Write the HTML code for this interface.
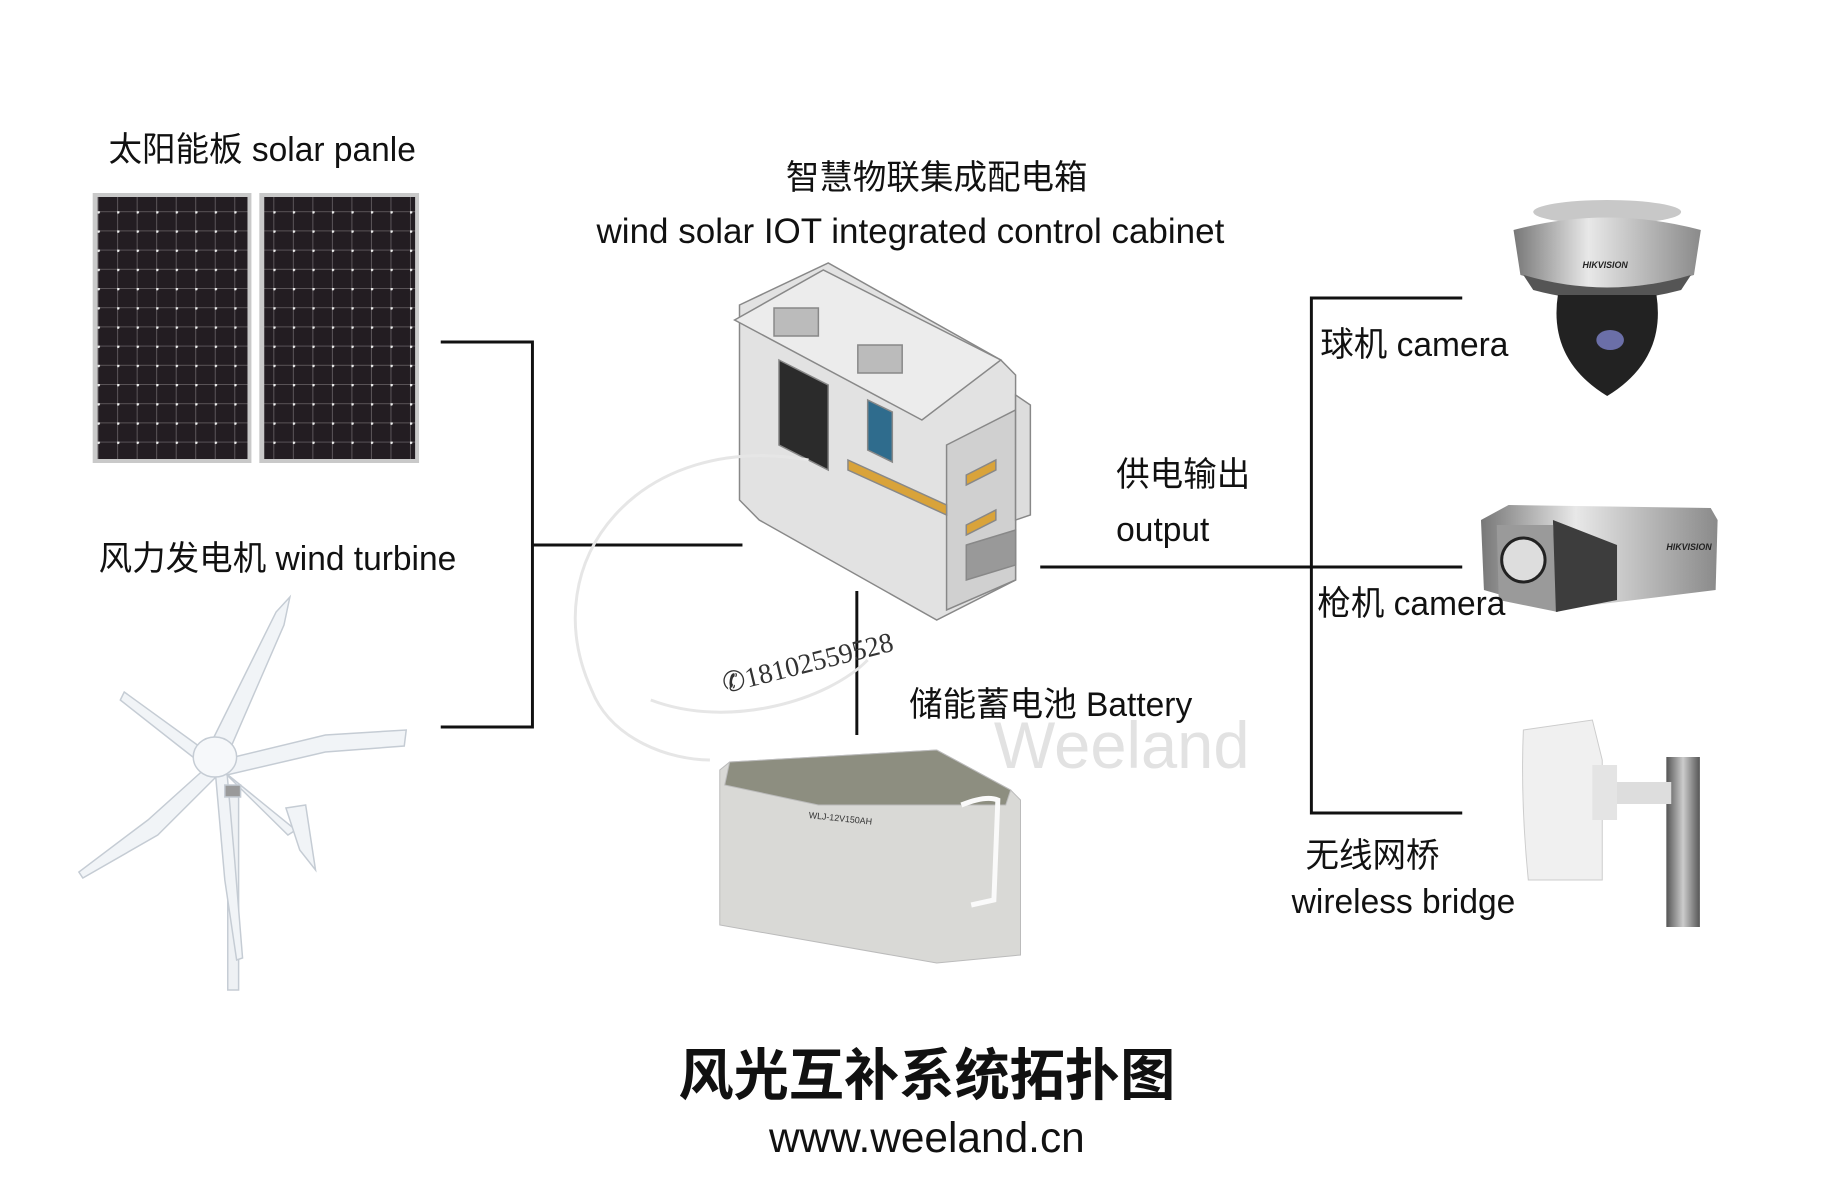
<!DOCTYPE html>
<html><head><meta charset="utf-8"><style>
body{margin:0;width:1827px;height:1199px;background:#fff;position:relative;overflow:hidden;font-family:"Liberation Sans","Noto Sans CJK SC",sans-serif;color:#111}
#w{position:absolute;left:0;top:0;width:1827px;height:1199px;transform:scale(0.986,1);transform-origin:0 0}
.t{position:absolute;white-space:nowrap;font-size:34px;line-height:1}
</style></head><body><div id="w">
<svg width="1827" height="1199" style="position:absolute;left:0;top:0">
<defs>
<pattern id="cell" width="19.8" height="19.2" patternUnits="userSpaceOnUse">
<rect width="19.8" height="19.2" fill="#231d22"/>
<path d="M0 0.5H19.8M0.5 0V19.2" stroke="#6a6468" stroke-width="0.8"/>
<circle cx="0.8" cy="0.8" r="1.6" fill="#eee"/>
</pattern>
<linearGradient id="sil" x1="0" x2="1"><stop offset="0" stop-color="#777"/><stop offset=".4" stop-color="#e8e8e8"/><stop offset="1" stop-color="#8a8a8a"/></linearGradient>
<linearGradient id="pole" x1="0" x2="1"><stop offset="0" stop-color="#555"/><stop offset=".5" stop-color="#ccc"/><stop offset="1" stop-color="#555"/></linearGradient>
</defs>
<rect x="94" y="193" width="161" height="270" fill="#c9c9c9"/>
<rect x="99" y="197" width="152" height="262" fill="url(#cell)"/>
<rect x="263" y="193" width="162" height="270" fill="#c9c9c9"/>
<rect x="268" y="197" width="153" height="262" fill="url(#cell)"/>
<g stroke="#111" stroke-width="3" fill="none">
<path d="M447 342H540V727H447"/>
<path d="M540 545H753"/>
<path d="M1055 567H1483"/>
<path d="M1483 298H1330V813H1483"/>
<path d="M869 591V735"/>
</g>
<g fill="#f1f4f7" stroke="#c5ccd4" stroke-width="1.5">
<rect x="231" y="790" width="11" height="200" fill="#eef1f4"/>
<path d="M213 745 L280 612 L294 597 L288 625 L232 752Z"/>
<path d="M225 760 L330 735 L412 730 L410 746 L330 752 L230 775Z"/>
<path d="M212 765 L150 820 L80 872 L84 878 L160 835 L218 778Z"/>
<path d="M210 752 L126 692 L122 700 L180 745 L206 765Z"/>
<path d="M218 768 L228 880 L240 960 L246 958 L238 860 L230 770Z"/>
<path d="M225 770 L300 830 L292 835Z"/>
<path d="M290 808 L310 805 L320 870 L304 850Z"/>
<ellipse cx="218" cy="757" rx="22" ry="20" fill="#f6f8fa"/>
<rect x="228" y="785" width="16" height="12" fill="#9a9a9a"/>
</g>
<g stroke="#888" stroke-width="1.5">
<path d="M750 305 L840 263 L1015 360 L1030 375 L1030 580 L950 620 L770 520 L750 500Z" fill="#e2e2e2"/>
<path d="M745 320 L835 270 L1015 360 L935 420Z" fill="#ececec"/>
<path d="M960 445 L1030 410 L1030 580 L960 610Z" fill="#d0d0d0"/>
<path d="M1030 395 L1045 405 L1045 515 L1030 520Z" fill="#ddd"/>
<path d="M790 360 L840 385 L840 470 L790 445Z" fill="#2b2b2b"/>
<path d="M880 400 L905 412 L905 462 L880 450Z" fill="#2f6c8d"/>
<path d="M860 460 L960 505 L960 515 L860 470Z" fill="#d9a33a"/>
<path d="M980 475 L1010 460 L1010 470 L980 485Z" fill="#d9a33a"/>
<path d="M980 525 L1010 510 L1010 520 L980 535Z" fill="#d9a33a"/>
<path d="M980 545 L1030 530 L1030 565 L980 580Z" fill="#999"/>
<rect x="785" y="308" width="45" height="28" fill="#bbb"/>
<rect x="870" y="345" width="45" height="28" fill="#bbb"/>
</g>
<g fill="none" stroke="#e6e6e6" stroke-width="3">
<path d="M820 460 C650 430 540 560 600 690 C620 740 680 760 720 760"/>
<path d="M660 700 C740 730 840 700 880 660"/>
</g>
<g stroke="#bbb" stroke-width="1">
<path d="M740 762 L950 750 L1025 790 L1035 800 L1035 955 L950 963 L730 925 L730 770Z" fill="#d9d9d6"/>
<path d="M740 762 L950 750 L1025 790 L1020 805 L830 805 L735 785Z" fill="#8d8e80"/>
<path d="M975 805 Q1000 795 1012 800 L1008 900 L985 905" fill="none" stroke="#fafafa" stroke-width="5"/>
</g>
<text x="820" y="818" font-size="9" fill="#333" transform="rotate(6 820 818)" font-family="Liberation Sans">WLJ-12V150AH</text>
<ellipse cx="1630" cy="212" rx="75" ry="12" fill="#c8c8c8"/>
<path d="M1535 230 Q1630 205 1725 230 L1718 275 Q1630 300 1542 275Z" fill="url(#sil)"/>
<path d="M1545 275 Q1630 300 1715 275 L1705 290 Q1630 310 1555 290Z" fill="#555"/>
<path d="M1580 295 L1680 295 Q1690 360 1630 396 Q1570 360 1580 295Z" fill="#222"/>
<ellipse cx="1633" cy="340" rx="14" ry="10" fill="#6b6fa8"/>
<text x="1605" y="268" font-size="9" font-style="italic" font-weight="bold" fill="#222" font-family="Liberation Sans">HIKVISION</text>
<path d="M1502 520 L1530 505 L1735 508 L1742 520 L1740 590 L1575 610 L1505 590Z" fill="url(#sil)"/>
<path d="M1518 525 L1575 525 L1580 612 L1520 600Z" fill="#9a9a9a"/>
<circle cx="1545" cy="560" r="22" fill="#ddd" stroke="#222" stroke-width="3"/>
<path d="M1575 520 L1640 545 L1640 600 L1578 612Z" fill="#3d3d3d"/>
<text x="1690" y="550" font-size="9" font-style="italic" font-weight="bold" fill="#222" font-family="Liberation Sans">HIKVISION</text>
<rect x="1690" y="757" width="34" height="170" fill="url(#pole)"/>
<rect x="1635" y="782" width="60" height="22" fill="#ddd"/>
<path d="M1545 730 L1615 720 L1625 760 L1625 880 L1550 880 Q1542 800 1545 730Z" fill="#f0f0f0" stroke="#ccc"/>
<rect x="1615" y="765" width="25" height="55" fill="#e4e4e4"/>
</svg>
<div class="t" style="left:110px;top:133px">太阳能板 solar panle</div>
<div class="t" style="left:797px;top:161px">智慧物联集成配电箱</div>
<div class="t" style="left:605px;top:214px;font-size:35.5px">wind solar IOT integrated control cabinet</div>
<div class="t" style="left:100px;top:542px">风力发电机 wind turbine</div>
<div class="t" style="left:1132px;top:458px">供电输出</div>
<div class="t" style="left:1132px;top:513px">output</div>
<div class="t" style="left:1339px;top:328px">球机 camera</div>
<div class="t" style="left:1336px;top:587px">枪机 camera</div>
<div class="t" style="left:922px;top:688px">储能蓄电池 Battery</div>
<div class="t" style="left:1324px;top:839px">无线网桥</div>
<div class="t" style="left:1310px;top:885px">wireless bridge</div>
<div class="t" style="left:730px;top:672px;font-size:28px;font-family:'Liberation Serif',serif;color:#333;transform:rotate(-14deg);transform-origin:left top">✆18102559528</div>
<div class="t" style="left:1008px;top:712px;font-size:66px;color:#e2e2e2">Weeland</div>
<div class="t" style="left:0;width:1880px;text-align:center;top:1048px;font-size:56px;font-weight:bold">风光互补系统拓扑图</div>
<div class="t" style="left:0;width:1880px;text-align:center;top:1117px;font-size:43px">www.weeland.cn</div>
</div></body></html>
